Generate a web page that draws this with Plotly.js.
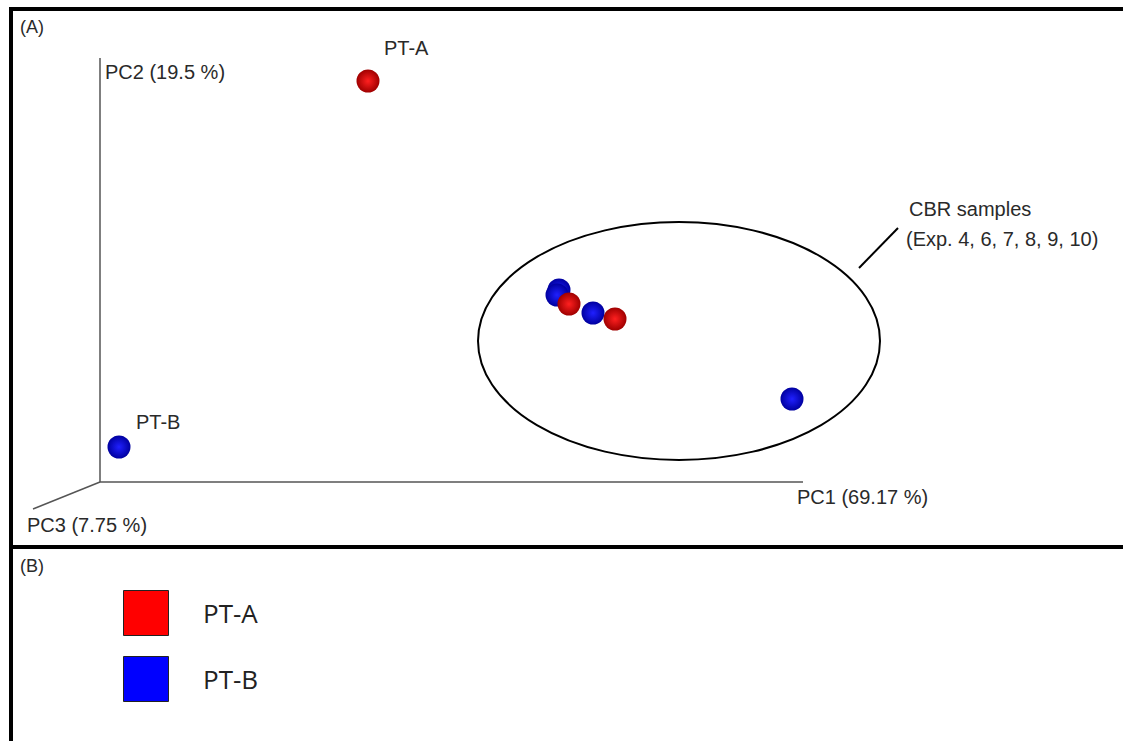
<!DOCTYPE html>
<html>
<head>
<meta charset="utf-8">
<script src="https://cdn.plot.ly/plotly-3.0.1.min.js"></script>
<style>html,body{margin:0;padding:0;background:#fff;}#chart{width:1123px;height:741px;}</style>
</head>
<body>
<div id="chart"></div>
<script>
// Group names and colours
const groupNames = ['PT-A', 'PT-B'];
const groupColors = ['#ff0000', '#0000ff'];
const groupEdges = ['#a00000', '#0000a0'];
const groupCenters = ['#ff2020', '#2020ff'];

// Projected PCoA scores (screen-plane units relative to the axis origin)
const ptA_x = [268, 469, 515];
const ptA_y = [401, 178, 163];
const ptB_x = [19, 459, 457, 493, 692];
const ptB_y = [35, 192, 187, 169, 83];

// Axis labels
const axisLabels = ['PC1 (69.17 %)', 'PC2 (19.5 %)', 'PC3 (7.75 %)'];
const clusterLabel = ['CBR samples', '(Exp. 4, 6, 7, 8, 9, 10)'];
const panelLabels = ['(A)', '(B)'];

const W = 1123, H = 741;
// helpers converting page pixels to data coords (origin at px 100, py 482)
const X = px => px - 100;
const Y = py => 482 - py;

const sphere = (i) => ({
  size: 23,
  color: groupEdges[i],
  gradient: {type: 'radial', color: groupCenters[i]},
  line: {width: 0}
});

const traces = [
  {x: ptB_x, y: ptB_y, type: 'scatter', mode: 'markers', name: groupNames[1], marker: sphere(1), hoverinfo: 'skip'},
  {x: ptA_x, y: ptA_y, type: 'scatter', mode: 'markers', name: groupNames[0], marker: sphere(0), hoverinfo: 'skip'},
  // legend squares in panel B
  {x: [X(146), X(146)], y: [Y(613), Y(679)], type: 'scatter', mode: 'markers', hoverinfo: 'skip',
   marker: {symbol: 'square', size: 45, color: groupColors, line: {color: '#222', width: 1}}}
];

const axisColor = '#555';
const txtFont = {family: 'Liberation Sans, Arial, sans-serif', size: 20, color: '#2a2a2a'};

const shapes = [
  // pseudo-3D axes
  {type: 'line', x0: X(100), y0: Y(482), x1: X(100), y1: Y(58), line: {color: axisColor, width: 1.5}},
  {type: 'line', x0: X(100), y0: Y(482), x1: X(803), y1: Y(482), line: {color: axisColor, width: 1.5}},
  {type: 'line', x0: X(100), y0: Y(482), x1: X(33), y1: Y(509), line: {color: axisColor, width: 1.5}},
  // cluster ellipse
  {type: 'circle', x0: X(478), x1: X(880), y0: Y(460), y1: Y(222), line: {color: '#000', width: 2}},
  // leader line
  {type: 'line', x0: X(859), y0: Y(268), x1: X(898), y1: Y(228), line: {color: '#000', width: 2}},
  // frame
  {type: 'line', xref: 'paper', yref: 'paper', x0: 9/W, x1: 1, y0: 1 - 9/H, y1: 1 - 9/H, line: {color: '#000', width: 4}},
  {type: 'line', xref: 'paper', yref: 'paper', x0: 11/W, x1: 11/W, y0: 1 - 7/H, y1: 0, line: {color: '#000', width: 4}},
  {type: 'line', xref: 'paper', yref: 'paper', x0: 9/W, x1: 1, y0: 1 - 547/H, y1: 1 - 547/H, line: {color: '#000', width: 4}}
];

const ann = (px, py, text, font, anchor) => ({
  x: X(px), y: Y(py), text: text, showarrow: false, xanchor: anchor || 'left', yanchor: 'middle', font: font || txtFont
});

const annotations = [
  ann(18, 27, panelLabels[0], {family: 'Liberation Sans, Arial, sans-serif', size: 18, color: '#2a2a2a'}),
  ann(18, 566, panelLabels[1], {family: 'Liberation Sans, Arial, sans-serif', size: 18, color: '#2a2a2a'}),
  ann(103, 72, axisLabels[1]),
  ann(795, 497, axisLabels[0]),
  ann(25, 525, axisLabels[2]),
  ann(382, 48, groupNames[0]),
  ann(134, 422, groupNames[1]),
  ann(907, 209, clusterLabel[0]),
  ann(904, 239, clusterLabel[1]),
  ann(201, 613, groupNames[0], {family: 'Open Sans, sans-serif', size: 26, color: '#222'}),
  ann(201, 679, groupNames[1], {family: 'Open Sans, sans-serif', size: 26, color: '#222'})
];

const layout = {
  width: W, height: H, autosize: false,
  margin: {l: 0, r: 0, t: 0, b: 0, pad: 0},
  paper_bgcolor: '#fff', plot_bgcolor: '#fff',
  showlegend: false,
  xaxis: {range: [X(0), X(W)], visible: false, fixedrange: true},
  yaxis: {range: [Y(H), Y(0)], visible: false, fixedrange: true},
  shapes: shapes,
  annotations: annotations
};

Plotly.newPlot('chart', traces, layout, {displayModeBar: false, staticPlot: true});
</script>
</body>
</html>
